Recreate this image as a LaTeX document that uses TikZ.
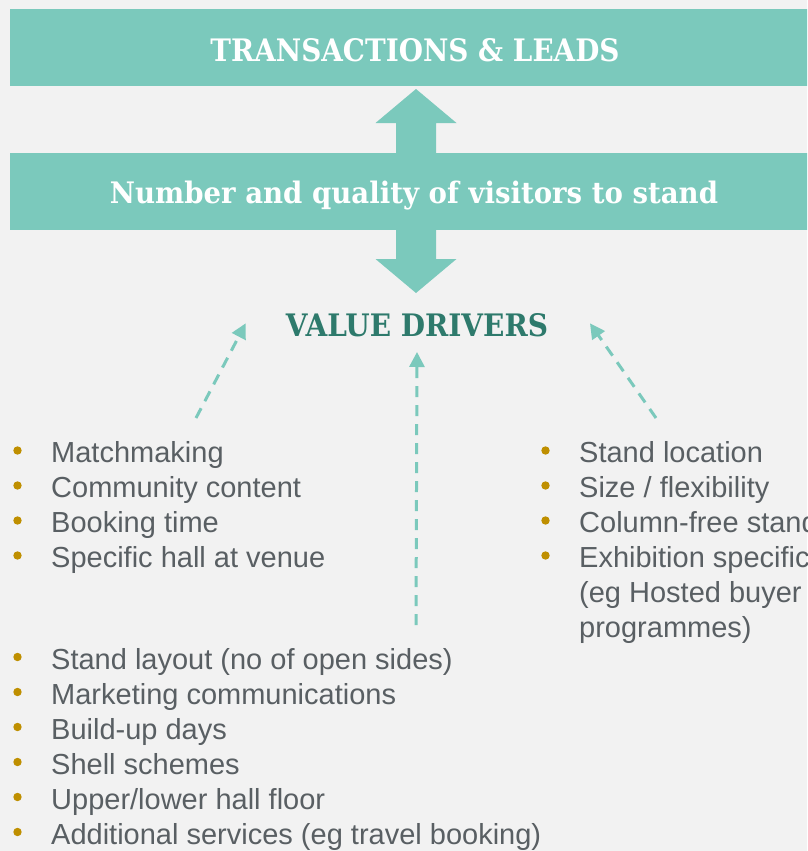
\documentclass[tikz,border=0pt]{standalone}
\usepackage{fontspec}
\setmainfont{Liberation Sans}
\newfontfamily\slab{DejaVu Serif}
\usetikzlibrary{arrows.meta}
\definecolor{bgc}{HTML}{F2F2F2}
\definecolor{bannerc}{HTML}{7BC9BC}
\definecolor{darkc}{HTML}{2E7A6C}
\definecolor{bulletc}{HTML}{BF8F00}
\definecolor{textc}{HTML}{595F63}
\tikzset{
  banner/.style={fill=bannerc, draw=none, minimum width=810pt, minimum height=77pt, inner sep=0pt, anchor=north west},
  bannertext/.style={text=white, inner sep=0pt, anchor=base},
  item/.style={text=textc, inner sep=0pt, anchor=base west, font=\fontsize{29}{35}\selectfont},
  dot/.style={circle, fill=bulletc, draw=none, minimum size=8.4pt, inner sep=0pt},
  dasharrow/.style={draw=bannerc, line width=3pt, dash pattern=on 11pt off 8pt, -{Triangle[length=15pt,width=15pt]}}
}
\begin{document}
\begin{tikzpicture}[x=1pt,y=-1pt]
\useasboundingbox (0,0) rectangle (807,851);
\clip (0,0) rectangle (807,851);
\fill[bgc] (0,0) rectangle (807,851);
% double arrow
\fill[bannerc] (416,89) -- (456.5,123) -- (436,123) -- (436,259) -- (456.5,259) -- (416,293)
  -- (375.5,259) -- (396,259) -- (396,123) -- (375.5,123) -- cycle;
% banners
\node[banner] (top) at (10,9) {};
\node[bannertext] (toptext) at (415,61) {\resizebox{409pt}{23pt}{\slab\bfseries TRANSACTIONS \& LEADS}};
\node[banner] (mid) at (10,153) {};
\node[bannertext] (midtext) at (414,203.3) {\resizebox{608pt}{22.5pt}{\slab\bfseries Number and quality of visitors to stand}};
% value drivers
\node[text=darkc, inner sep=0pt, anchor=base] (vd) at (417,336) {\resizebox{262pt}{23pt}{\slab\bfseries VALUE DRIVERS}};
% dashed arrows
\coordinate (lfrom) at (196,418);
\coordinate (lto) at (245.7,323.3);
\coordinate (mfrom) at (416,625);
\coordinate (mto) at (417,352);
\coordinate (rfrom) at (656,418);
\coordinate (rto) at (590,323.3);
\draw[dasharrow] (lfrom) -- (lto);
\draw[dasharrow] (mfrom) -- (mto);
\draw[dasharrow] (rfrom) -- (rto);
% left list
\node[item] (l1) at (51,462) {Matchmaking};
\node[item] (l2) at (51,497) {Community content};
\node[item] (l3) at (51,532) {Booking time};
\node[item] (l4) at (51,567) {Specific hall at venue};
\node[dot] (b1) at (17.5,450.5) {};
\node[dot] (b2) at (17.5,485.5) {};
\node[dot] (b3) at (17.5,520.5) {};
\node[dot] (b4) at (17.5,555.5) {};
% right list
\node[item] (r1) at (579,462) {Stand location};
\node[item] (r2) at (579,497) {Size / flexibility};
\node[item] (r3) at (579,532) {Column-free stand};
\node[item] (r4) at (579,567) {Exhibition specific};
\node[item] (r5) at (579,602) {(eg Hosted buyer};
\node[item] (r6) at (579,637) {programmes)};
\node[dot] (rb1) at (545.5,450.5) {};
\node[dot] (rb2) at (545.5,485.5) {};
\node[dot] (rb3) at (545.5,520.5) {};
\node[dot] (rb4) at (545.5,555.5) {};
% bottom list
\node[item] (d1) at (51,669) {Stand layout (no of open sides)};
\node[item] (d2) at (51,704) {Marketing communications};
\node[item] (d3) at (51,739) {Build-up days};
\node[item] (d4) at (51,774) {Shell schemes};
\node[item] (d5) at (51,809) {Upper/lower hall floor};
\node[item] (d6) at (51,844) {Additional services (eg travel booking)};
\node[dot] (db1) at (17.5,657) {};
\node[dot] (db2) at (17.5,692) {};
\node[dot] (db3) at (17.5,727) {};
\node[dot] (db4) at (17.5,762) {};
\node[dot] (db5) at (17.5,797) {};
\node[dot] (db6) at (17.5,832) {};
\end{tikzpicture}
\end{document}
